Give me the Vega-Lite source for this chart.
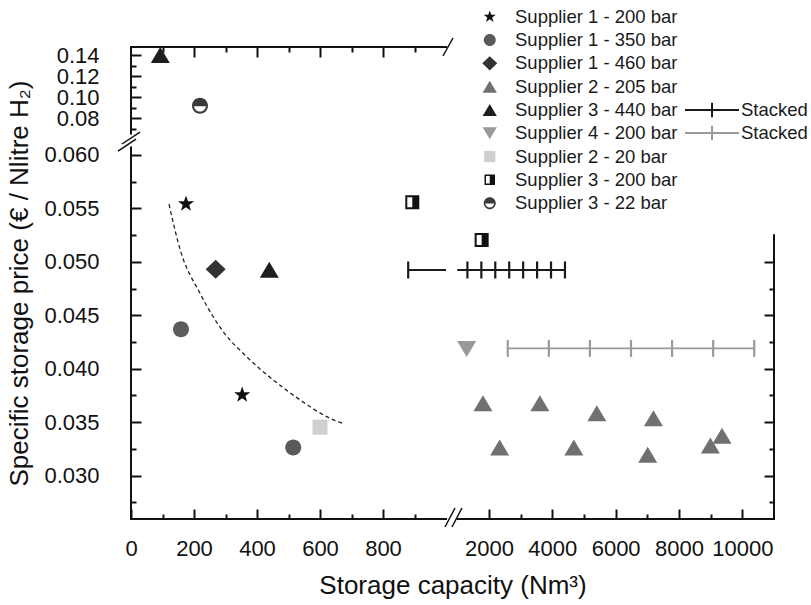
{
  "$schema": "https://vega.github.io/schema/vega-lite/v6.json",
  "width": 643,
  "height": 472,
  "autosize": {"type": "none"},
  "padding": {"left": 131, "top": 47, "right": 37, "bottom": 86},
  "background": "white",
  "config": {
    "font": "Liberation Sans",
    "view": {"stroke": null},
    "axis": {
      "domain": false, "grid": false, "tickColor": "#111", "tickWidth": 2,
      "labelFont": "Liberation Sans", "labelFontSize": 22, "labelColor": "#111",
      "titleFont": "Liberation Sans", "titleFontSize": 26, "titleFontWeight": "normal", "titleColor": "#111"
    },
    "legend": {"labelFont": "Liberation Sans", "labelColor": "#1a1a1a", "labelLimit": 0}
  },
  "datasets": {
    "points": [
      {"series": "Supplier 1 - 200 bar", "x": 174.6, "y": 0.05542},
      {"series": "Supplier 1 - 200 bar", "x": 353, "y": 0.03755},
      {"series": "Supplier 1 - 350 bar", "x": 158.7, "y": 0.0437},
      {"series": "Supplier 1 - 350 bar", "x": 515, "y": 0.03262},
      {"series": "Supplier 1 - 460 bar", "x": 268.8, "y": 0.04931},
      {"series": "Supplier 2 - 205 bar", "x": 1811, "y": 0.03677},
      {"series": "Supplier 2 - 205 bar", "x": 3608, "y": 0.03677},
      {"series": "Supplier 2 - 205 bar", "x": 5406, "y": 0.03584},
      {"series": "Supplier 2 - 205 bar", "x": 7194, "y": 0.03537},
      {"series": "Supplier 2 - 205 bar", "x": 2337, "y": 0.03262},
      {"series": "Supplier 2 - 205 bar", "x": 4681, "y": 0.03262},
      {"series": "Supplier 2 - 205 bar", "x": 7013, "y": 0.03194},
      {"series": "Supplier 2 - 205 bar", "x": 8991, "y": 0.03281},
      {"series": "Supplier 2 - 205 bar", "x": 9358, "y": 0.03374},
      {"series": "Supplier 3 - 440 bar", "x": 93, "y": 0.14},
      {"series": "Supplier 3 - 440 bar", "x": 439, "y": 0.04926},
      {"series": "Supplier 4 - 200 bar", "x": 1297, "y": 0.04185},
      {"series": "Supplier 2 - 20 bar", "x": 600, "y": 0.03453},
      {"series": "Supplier 3 - 200 bar", "x": 893, "y": 0.05558},
      {"series": "Supplier 3 - 200 bar", "x": 1770, "y": 0.05205},
      {"series": "Supplier 3 - 22 bar", "x": 219, "y": 0.0918}
    ],
    "curve": [
      {"x": 120.6, "y": 0.0554},
      {"x": 155.6, "y": 0.05119},
      {"x": 219, "y": 0.04706},
      {"x": 293, "y": 0.04347},
      {"x": 367, "y": 0.04113},
      {"x": 451.7, "y": 0.03895},
      {"x": 537, "y": 0.03708},
      {"x": 621, "y": 0.03552},
      {"x": 679, "y": 0.03481}
    ],
    "stackLines": [
      {"stk": "Stacked S3", "x": 880, "x2": 1000, "y": 0.04924},
      {"stk": "Stacked S3", "x": 1001, "x2": 4400, "y": 0.04924},
      {"stk": "Stacked S4", "x": 2594, "x2": 10376, "y": 0.0419}
    ],
    "stackTicks": [
      {"stk": "Stacked S3", "x": 880, "y": 0.04924},
      {"stk": "Stacked S3", "x": 1320, "y": 0.04924},
      {"stk": "Stacked S3", "x": 1760, "y": 0.04924},
      {"stk": "Stacked S3", "x": 2200, "y": 0.04924},
      {"stk": "Stacked S3", "x": 2640, "y": 0.04924},
      {"stk": "Stacked S3", "x": 3080, "y": 0.04924},
      {"stk": "Stacked S3", "x": 3520, "y": 0.04924},
      {"stk": "Stacked S3", "x": 3960, "y": 0.04924},
      {"stk": "Stacked S3", "x": 4400, "y": 0.04924},
      {"stk": "Stacked S4", "x": 2594, "y": 0.0419},
      {"stk": "Stacked S4", "x": 3891, "y": 0.0419},
      {"stk": "Stacked S4", "x": 5188, "y": 0.0419},
      {"stk": "Stacked S4", "x": 6485, "y": 0.0419},
      {"stk": "Stacked S4", "x": 7782, "y": 0.0419},
      {"stk": "Stacked S4", "x": 9079, "y": 0.0419},
      {"stk": "Stacked S4", "x": 10376, "y": 0.0419}
    ],
    "frame": [
      {"x": 0, "x2": 0, "y": 0.02594, "y2": 0.0607},
      {"x": 0, "x2": 0, "y": 0.0655, "y2": 0.1476},
      {"x": 0, "x2": 1000, "y": 0.02594, "y2": 0.02594},
      {"x": 1001, "x2": 11000, "y": 0.02594, "y2": 0.02594},
      {"x": 0, "x2": 1000, "y": 0.1476, "y2": 0.1476},
      {"x": 11000, "x2": 11000, "y": 0.02594, "y2": 0.0525}
    ],
    "breaks": [
      {"x": -41.3, "x2": 15.9, "y": 0.06037, "y2": 0.06361},
      {"x": -28.6, "x2": 28.6, "y": 0.0619, "y2": 0.06692},
      {"x": 996.8, "x2": 1000.8, "y": 0.02519, "y2": 0.02697},
      {"x": 1000.53, "x2": 1149, "y": 0.02519, "y2": 0.02697},
      {"x": 990.5, "x2": 1000.62, "y": 0.13906, "y2": 0.15614}
    ]
  },
  "layer": [
    {
      "data": {"name": "frame"},
      "mark": {"type": "rule", "color": "#111", "strokeWidth": 2, "strokeCap": "square"},
      "encoding": {
        "x": {"field": "x", "type": "quantitative",
          "scale": {"type": "linear", "domain": [0, 1000, 1001, 11000], "range": [0, 315, 326.3, 643], "nice": false, "zero": false},
          "axis": {"orient": "top", "values": [100, 200, 300, 400, 500, 600, 700, 800, 900], "labels": false, "title": null,
            "tickSize": {"condition": {"test": "indexof([200,400,600,800], datum.value) >= 0", "value": -10}, "value": -5}}},
        "x2": {"field": "x2"},
        "y": {"field": "y", "type": "quantitative",
          "scale": {"type": "linear", "domain": [0.02594, 0.0607, 0.0655, 0.1476], "range": [472, 100.5, 86.5, 0], "nice": false, "zero": false},
          "axis": {"orient": "right", "values": [0.0275, 0.03, 0.0325, 0.035, 0.0375, 0.04, 0.0425, 0.045, 0.0475, 0.05], "labels": false, "title": null,
            "tickSize": {"condition": {"test": "indexof([0.03,0.035,0.04,0.045,0.05], datum.value) >= 0", "value": -10}, "value": -5}}},
        "y2": {"field": "y2"}
      }
    },
    {
      "data": {"name": "breaks"},
      "mark": {"type": "rule", "color": "#111", "strokeWidth": 1.5},
      "encoding": {
        "x": {"field": "x", "type": "quantitative",
          "scale": {"type": "linear", "domain": [0, 1000, 1001, 11000], "range": [0, 315, 326.3, 643], "nice": false, "zero": false}, "axis": null},
        "x2": {"field": "x2"},
        "y": {"field": "y", "type": "quantitative",
          "scale": {"type": "linear", "domain": [0.02594, 0.0607, 0.0655, 0.1476], "range": [472, 100.5, 86.5, 0], "nice": false, "zero": false}, "axis": null},
        "y2": {"field": "y2"}
      }
    },
    {
      "data": {"name": "curve"},
      "mark": {"type": "line", "color": "#222", "strokeWidth": 1.3, "strokeDash": [4, 3], "interpolate": "monotone"},
      "encoding": {
        "x": {"field": "x", "type": "quantitative",
          "scale": {"type": "linear", "domain": [0, 1000, 1001, 11000], "range": [0, 315, 326.3, 643], "nice": false, "zero": false}, "axis": null},
        "y": {"field": "y", "type": "quantitative",
          "scale": {"type": "linear", "domain": [0.02594, 0.0607, 0.0655, 0.1476], "range": [472, 100.5, 86.5, 0], "nice": false, "zero": false}, "axis": null}
      }
    },
    {
      "data": {"name": "stackLines"},
      "mark": {"type": "rule", "strokeWidth": 1.8},
      "encoding": {
        "x": {"field": "x", "type": "quantitative",
          "scale": {"type": "linear", "domain": [0, 1000, 1001, 11000], "range": [0, 315, 326.3, 643], "nice": false, "zero": false}, "axis": null},
        "x2": {"field": "x2"},
        "y": {"field": "y", "type": "quantitative",
          "scale": {"type": "linear", "domain": [0.02594, 0.0607, 0.0655, 0.1476], "range": [472, 100.5, 86.5, 0], "nice": false, "zero": false}, "axis": null},
        "stroke": {"field": "stk", "type": "nominal",
          "scale": {"domain": ["Stacked S3", "Stacked S4"], "range": ["#1a1a1a", "#9a9a9a"]},
          "legend": {"title": null, "orient": "none", "legendX": 553, "legendY": 53.5, "labelFontSize": 18.5, "labelExpr": "'Stacked'",
            "symbolType": "M-1,0H5.35M2.18,-0.85V0.85", "symbolSize": 289, "symbolStrokeWidth": 2, "rowPadding": 0, "labelOffset": 38, "padding": 0}}
      }
    },
    {
      "data": {"name": "stackTicks"},
      "mark": {"type": "point", "shape": "M0,-1V1", "size": 289, "filled": false, "strokeWidth": 2.2, "opacity": 1},
      "encoding": {
        "x": {"field": "x", "type": "quantitative",
          "scale": {"type": "linear", "domain": [0, 1000, 1001, 11000], "range": [0, 315, 326.3, 643], "nice": false, "zero": false}, "axis": null},
        "y": {"field": "y", "type": "quantitative",
          "scale": {"type": "linear", "domain": [0.02594, 0.0607, 0.0655, 0.1476], "range": [472, 100.5, 86.5, 0], "nice": false, "zero": false}, "axis": null},
        "stroke": {"field": "stk", "type": "nominal",
          "scale": {"domain": ["Stacked S3", "Stacked S4"], "range": ["#1a1a1a", "#9a9a9a"]},
          "legend": {"title": null, "orient": "none", "legendX": 553, "legendY": 53.5, "labelFontSize": 18.5, "labelExpr": "'Stacked'",
            "symbolType": "M-1,0H5.35M2.18,-0.85V0.85", "symbolSize": 289, "symbolStrokeWidth": 2, "rowPadding": 0, "labelOffset": 38, "padding": 0}}
      }
    },
    {
      "data": {"name": "points"},
      "mark": {"type": "point", "filled": true, "size": 400, "opacity": 1, "strokeWidth": 0},
      "encoding": {
        "x": {"field": "x", "type": "quantitative",
          "scale": {"type": "linear", "domain": [0, 1000, 1001, 11000], "range": [0, 315, 326.3, 643], "nice": false, "zero": false},
          "axis": {"orient": "bottom",
            "values": [0, 100, 200, 300, 400, 500, 600, 700, 800, 900, 2000, 3000, 4000, 5000, 6000, 7000, 8000, 9000, 10000],
            "labelExpr": "indexof([0,200,400,600,800,2000,4000,6000,8000,10000], datum.value) >= 0 ? format(datum.value, 'd') : ''",
            "tickSize": {"condition": {"test": "indexof([0,200,400,600,800,2000,4000,6000,8000,10000], datum.value) >= 0", "value": -10}, "value": -5},
            "labelPadding": 29, "labelOverlap": false, "labelFlush": false,
            "title": "Storage capacity (Nm³)", "titlePadding": 8}},
        "y": {"field": "y", "type": "quantitative",
          "scale": {"type": "linear", "domain": [0.02594, 0.0607, 0.0655, 0.1476], "range": [472, 100.5, 86.5, 0], "nice": false, "zero": false},
          "axis": {"orient": "left",
            "values": [0.0275, 0.03, 0.0325, 0.035, 0.0375, 0.04, 0.0425, 0.045, 0.0475, 0.05, 0.0525, 0.055, 0.0575, 0.06, 0.07, 0.08, 0.09, 0.1, 0.11, 0.12, 0.13, 0.14],
            "labelExpr": "indexof([0.03,0.035,0.04,0.045,0.05,0.055,0.06,0.08,0.1,0.12,0.14], datum.value) >= 0 ? (datum.value > 0.065 ? format(datum.value, '.2f') : format(datum.value, '.3f')) : ''",
            "tickSize": {"condition": {"test": "indexof([0.03,0.035,0.04,0.045,0.05,0.055,0.06,0.08,0.1,0.12,0.14], datum.value) >= 0", "value": -10}, "value": -5},
            "labelPadding": 42, "labelOverlap": false, "labelFlush": false,
            "title": "Specific storage price (€ / Nlitre H₂)", "titlePadding": 11}},
        "fill": {"field": "series", "type": "nominal",
          "scale": {
            "domain": ["Supplier 1 - 200 bar", "Supplier 1 - 350 bar", "Supplier 1 - 460 bar", "Supplier 2 - 205 bar", "Supplier 3 - 440 bar", "Supplier 4 - 200 bar", "Supplier 2 - 20 bar", "Supplier 3 - 200 bar", "Supplier 3 - 22 bar"],
            "range": ["#111111", "#5b5b5b", "#333333", "#707070", "#1e1e1e", "#999999", "#cfcfcf", "#111111", "#3a3a3a"]},
          "legend": {"title": null, "orient": "none", "legendX": 349.5, "legendY": -39.5, "labelFontSize": 18.5, "symbolSize": 225, "rowPadding": 4.3, "labelOffset": 16, "padding": 0, "symbolStrokeWidth": 0}},
        "shape": {"field": "series", "type": "nominal",
          "scale": {
            "domain": ["Supplier 1 - 200 bar", "Supplier 1 - 350 bar", "Supplier 1 - 460 bar", "Supplier 2 - 205 bar", "Supplier 3 - 440 bar", "Supplier 4 - 200 bar", "Supplier 2 - 20 bar", "Supplier 3 - 200 bar", "Supplier 3 - 22 bar"],
            "range": [
              "M0,-0.85L0.2,-0.275L0.808,-0.263L0.323,0.105L0.5,0.688L0,0.34L-0.5,0.688L-0.323,0.105L-0.808,-0.263L-0.2,-0.275Z",
              "M-0.8,0A0.8,0.8,0,1,1,0.8,0A0.8,0.8,0,1,1,-0.8,0Z",
              "M-1,0L0,-0.95L1,0L0,0.95Z",
              "M-0.95,0.8L0.95,0.8L0,-0.8Z",
              "M-0.95,0.8L0.95,0.8L0,-0.8Z",
              "M-0.95,-0.8L0.95,-0.8L0,0.8Z",
              "M-0.75,-0.75H0.75V0.75H-0.75Z",
              "M-0.7,-0.7H0.7V0.7H-0.7ZM-0.5,-0.5V0.5H0V-0.5Z",
              "M-0.8,0A0.8,0.8,0,1,1,0.8,0A0.8,0.8,0,1,1,-0.8,0ZM-0.597,0.04A0.6,0.6,0,0,0,0.597,0.04Z"
            ]},
          "legend": {"title": null, "orient": "none", "legendX": 349.5, "legendY": -39.5, "labelFontSize": 18.5, "symbolSize": 225, "rowPadding": 4.3, "labelOffset": 16, "padding": 0, "symbolStrokeWidth": 0}}
      }
    }
  ],
  "resolve": {"axis": {"x": "independent", "y": "independent"}}
}
